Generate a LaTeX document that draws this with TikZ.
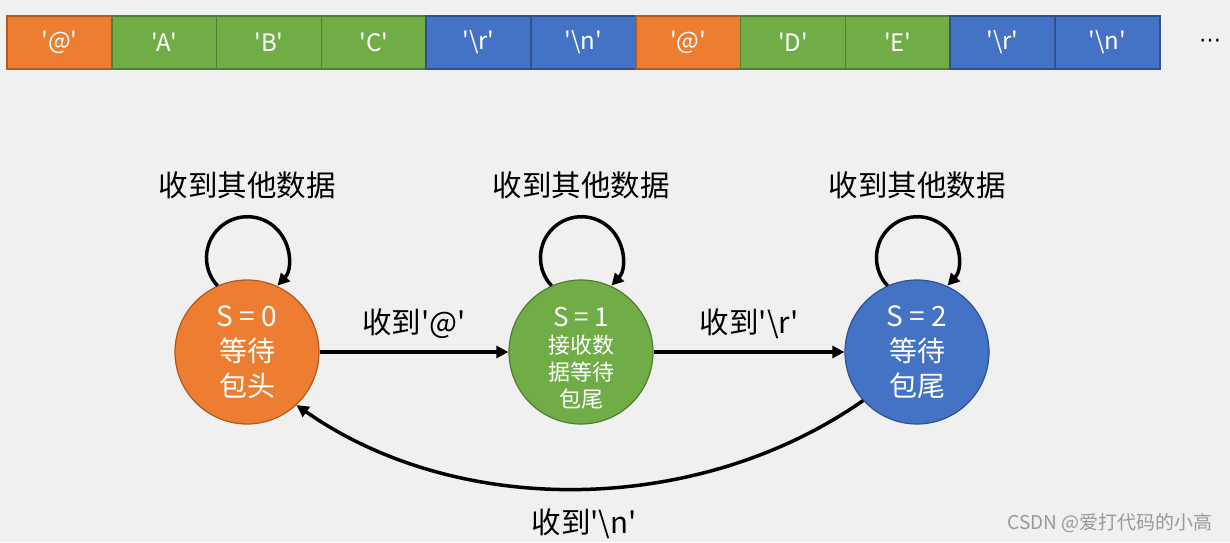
\documentclass[tikz,border=0pt]{standalone}
\usepackage{fontspec}
\newfontfamily\cjk{Noto Sans CJK SC}
\newfontfamily\dvs{DejaVu Sans}
\usetikzlibrary{arrows.meta}
\definecolor{bg}{HTML}{F0F0F0}
\definecolor{orF}{HTML}{ED7D31}\definecolor{orD}{HTML}{AE5A21}
\definecolor{grF}{HTML}{70AD47}\definecolor{grD}{HTML}{507E32}
\definecolor{blF}{HTML}{4472C4}\definecolor{blD}{HTML}{2F528F}
\tikzset{
  cell/.style={draw=#1D, fill=#1F, line width=1.6pt, minimum width=104.8pt, minimum height=53pt,
    inner sep=0pt, outer sep=0pt, text=white, font=\cjk\fontsize{24}{26}\selectfont, anchor=west},
  state/.style={circle, draw=#1D, fill=#1F, line width=1.2pt, minimum size=144pt, inner sep=0pt,
    text=white, align=center},
  lbl/.style={font=\cjk\fontsize{29.5}{32}\selectfont, text=black},
  arr/.style={line width=3.5pt, -{Triangle[length=12pt,width=12pt]}},
}
\begin{document}
\begin{tikzpicture}[x=1pt,y=1pt]
\fill[bg] (0,0) rectangle (1230,542);
\useasboundingbox (0,0) rectangle (1230,542);
% top bar
\node[cell=or] (c1) at (7,499.5) {'@'};
\node[cell=gr] (c2) at (c1.east) {'A'};
\node[cell=gr] (c3) at (c2.east) {'B'};
\node[cell=gr] (c4) at (c3.east) {'C'};
\node[cell=bl] (c5) at (c4.east) {'\textbackslash r'};
\node[cell=bl] (c6) at (c5.east) {'\textbackslash n'};
\node[cell=or] (c7) at (c6.east) {'@'};
\node[cell=gr] (c8) at (c7.east) {'D'};
\node[cell=gr] (c9) at (c8.east) {'E'};
\node[cell=bl] (c10) at (c9.east) {'\textbackslash r'};
\node[cell=bl] (c11) at (c10.east) {'\textbackslash n'};
\node[font=\dvs\fontsize{22}{24}\selectfont] (dots) at (1210,499) {⋯};
% states
\node[state=or, font=\cjk\fontsize{28}{35}\selectfont] (s0) at (247,190) {S = 0\\ 等待\\ 包头};
\node[state=gr] (s1) at (581,190) {};
\node[text=white, align=center, font=\cjk\fontsize{22}{27}\selectfont] (s1t) at ([yshift=-6]s1.center)
  {{\fontsize{26}{27}\selectfont S = 1}\\接收数\\据等待\\包尾};
\node[state=bl, font=\cjk\fontsize{28}{35}\selectfont] (s2) at (917,190) {S = 2\\ 等待\\ 包尾};
% self loops
\foreach \s in {s0,s1,s2}{
  \draw[arr] (\s.114.4) arc[start angle=223, end angle=-43, radius=41];
  \node[lbl] (l\s) at ([yshift=167]\s.center) {收到其他数据};
}
% transitions
\draw[arr] (s0.east) -- node[lbl, above=8pt] (t01) {收到'@'} (s1.west);
\draw[arr] (s1.east) -- node[lbl, above=8pt] (t12) {收到'\textbackslash r'} (s2.west);
\draw[arr] (s2.222) to[out=215, in=-35, looseness=0.9] (s0.313);
\node[lbl] (t20) at (584,18) {收到'\textbackslash n'};
\node[font=\cjk\fontsize{19}{20}\selectfont, text=black!40] (wm) at (1110,19) {CSDN @爱打代码的小高};
\end{tikzpicture}
\end{document}
